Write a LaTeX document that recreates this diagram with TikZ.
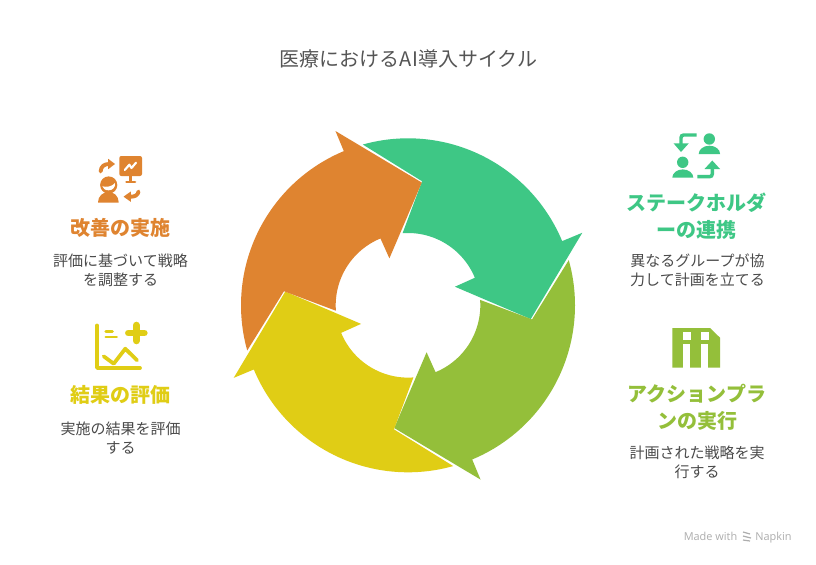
\documentclass[tikz,border=0pt]{standalone}
\usepackage{fontspec}
\setmainfont{Noto Sans CJK JP}
\newfontfamily\latinf{Open Sans}
\definecolor{cgreen}{HTML}{3EC785}
\definecolor{colive}{HTML}{94BF3A}
\definecolor{cyellow}{HTML}{E0CD15}
\definecolor{corange}{HTML}{DF8430}
\definecolor{ctitle}{HTML}{555555}
\definecolor{cbody}{HTML}{4A4A4A}
\tikzset{
  titletext/.style={font=\fontsize{15pt}{18pt}\selectfont,text=ctitle,inner sep=0pt},
  headtext/.style={font=\fontsize{15pt}{20.6pt}\selectfont\bfseries,align=center,inner sep=0pt},
  bodytext/.style={font=\fontsize{11.25pt}{14.4pt}\selectfont,text=cbody,align=center,inner sep=0pt},
  creditstyle/.style={font=\fontsize{8.2pt}{10pt}\selectfont,text=black!32,inner sep=0pt}
}
\newcommand\cyclearrow[2]{%
  \fill[#2] plot[domain=-105.7:-22.6,samples=70] ({408+167*cos(\x+#1)},{305.3+167*sin(\x+#1)})
    -- ({408+188.8*cos(-22.6+#1)},{305.3+188.8*sin(-22.6+#1)})
    -- ({408+123.5*cos(6.4+#1)},{305.3+123.5*sin(6.4+#1)})
    -- ({408+50.5*cos(-21.6+#1)},{305.3+50.5*sin(-21.6+#1)})
    -- plot[domain=-22.4:-94.3,samples=50] ({408+72.3*cos(\x+#1)},{305.3+72.3*sin(\x+#1)})
    -- ({408+124.85*cos(-83.53+#1)},{305.3+124.85*sin(-83.53+#1)})
    -- cycle;}
\begin{document}
\begin{tikzpicture}[x=0.75pt,y=-0.75pt]
\useasboundingbox (0,0) rectangle (816,564);
\fill[white] (0,0) rectangle (816,564);
\cyclearrow{0}{cgreen}
\cyclearrow{90}{colive}
\cyclearrow{180}{cyellow}
\cyclearrow{270}{corange}
\node[titletext] (title) at (408.5,59) {医療におけるAI導入サイクル};
\node[headtext,text=cgreen] (h1) at (696.5,216) {ステークホルダ\\ーの連携};
\node[bodytext] (b1) at (697.5,270) {異なるグループが協\\力して計画を立てる};
\node[headtext,text=colive] (h2) at (697,407.5) {アクションプラ\\ンの実行};
\node[bodytext] (b2) at (697,462) {計画された戦略を実\\行する};
\node[headtext,text=corange] (h3) at (120,228) {改善の実施};
\node[bodytext] (b3) at (120.5,270) {評価に基づいて戦略\\を調整する};
\node[headtext,text=cyellow] (h4) at (120,395) {結果の評価};
\node[bodytext] (b4) at (120.5,438) {実施の結果を評価\\する};
% green icon
\draw[cgreen,line width=2.6pt,rounded corners=2pt] (696.7,135) -- (681,135) -- (681,145);
\fill[cgreen] (673.5,143.3) -- (688.8,143.3) -- (681,152) -- cycle;
\fill[cgreen] (709.3,139) circle[radius=5.7];
\fill[cgreen] (698.7,154) arc[start angle=180,end angle=0,x radius=10.7,y radius=-8.3] -- cycle;
\fill[cgreen] (682.7,162.3) circle[radius=5.7];
\fill[cgreen] (672.3,177.7) arc[start angle=180,end angle=0,x radius=10.5,y radius=-8.3] -- cycle;
\draw[cgreen,line width=2.6pt,rounded corners=2pt] (697.3,176.7) -- (712.3,176.7) -- (712.3,168);
\fill[cgreen] (704.5,169) -- (720,169) -- (712.3,160.5) -- cycle;
% olive icon
\fill[colive] (672.3,328) -- (710,328) -- (720,337.7) -- (720,367.7) -- (672.3,367.7) -- cycle;
\fill[white] (682.7,332) rectangle (690.5,339.7);
\fill[white] (700.7,332) rectangle (708.5,339.7);
\fill[white] (682.7,343.7) rectangle (690.2,367.8);
\fill[white] (700.7,343.7) rectangle (708.3,367.8);
% orange icon
\fill[corange,rounded corners=1.5pt] (119.3,156) rectangle (142,176);
\draw[white,line width=1.6pt,line join=round,line cap=round] (124.8,170) -- (129.3,164.7) -- (131.5,168) -- (136,162.7);
\draw[corange,line width=2.4pt] (130.7,175) -- (130.7,182);
\draw[corange,line width=2pt,line cap=round] (126.5,182) -- (135,182);
\draw[corange,line width=2.9pt,line cap=round] (100.6,171.5) .. controls (101,166.5) and (104,164) .. (109,164);
\fill[corange] (108.2,158.8) -- (108.2,169.2) -- (115,164) -- cycle;
\draw[corange,line width=2.9pt,line cap=round] (138.5,191.5) .. controls (138,195) and (135,197) .. (130,196.7);
\fill[corange] (130.8,191.5) -- (130.8,201.8) -- (123.5,196.7) -- cycle;
\fill[corange] (108.7,185) circle[radius=8.6];
\fill[white] (102.3,186.3) .. controls (107,187.5) and (112,186.5) .. (115,183) .. controls (115.5,187.5) and (112.5,190.3) .. (108.7,190.3) .. controls (105.3,190.3) and (103,188.8) .. (102.3,186.3) -- cycle;
\fill[corange] (98,202.5) .. controls (98,196) and (103,192) .. (108.5,192) .. controls (114,192) and (118.7,196) .. (118.7,202.5) -- cycle;
% yellow icon
\draw[cyellow,line width=2.8pt,line cap=round,line join=round] (97,325.5) -- (97,368) -- (140,368);
\draw[cyellow,line width=2pt,line cap=round] (105.8,331.3) -- (112.5,331.3);
\draw[cyellow,line width=2pt,line cap=round] (105.8,337) -- (116.7,337);
\draw[cyellow,line width=2.8pt,line cap=round,line join=round] (103.7,356.3) -- (113.7,363.7) -- (125.3,348.7) -- (137,360.3);
\draw[cyellow,line width=5.2pt,line cap=round] (128.5,333) -- (144.2,333);
\draw[cyellow,line width=5.2pt,line cap=round] (136.3,325.2) -- (136.3,340.8);
% credit
\node[creditstyle,anchor=base west] (c1) at (683.5,540) {\latinf Made with};
\node[creditstyle,anchor=base west] (c2) at (755,540) {\latinf Napkin};
\draw[black!32,line width=0.9pt] (743,532) -- (750,534) (743,536) -- (751,538) (743,540) -- (750,541);
\end{tikzpicture}
\end{document}
